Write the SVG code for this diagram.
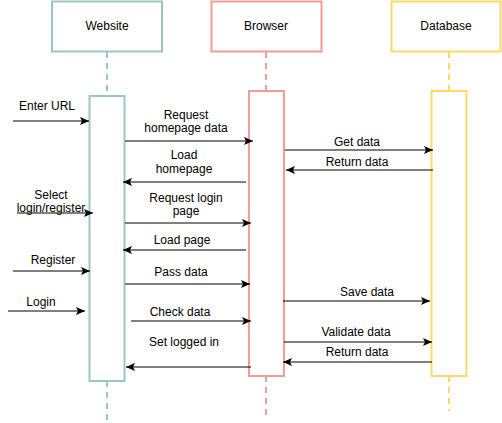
<svg xmlns="http://www.w3.org/2000/svg" width="502" height="423" viewBox="0 0 502 423">
<defs>
<marker id="ah" markerWidth="10" markerHeight="8" refX="9" refY="4" orient="auto" markerUnits="userSpaceOnUse">
<path d="M0,0 L9,4 L0,8 L2,4 Z" fill="#000"/>
</marker>
</defs>
<style>
text{font-family:"Liberation Sans",Arial,sans-serif;font-size:12px;fill:#000;text-anchor:middle}
.msg{stroke:#000;stroke-width:1;fill:none;marker-end:url(#ah)}
.teal{stroke:#9AC7BF}
.pink{stroke:#F19C99}
.yel{stroke:#FFD966}
.box{fill:#fff;stroke-width:2}
.life{stroke-width:2;stroke-dasharray:6,5;fill:none}
</style>
<rect width="502" height="423" fill="#fff"/>
<g id="website">
<line class="life teal" x1="107" y1="52" x2="107" y2="96"/>
<line class="life teal" x1="107" y1="381" x2="107" y2="423"/>
<rect class="box teal" x="52" y="1.5" width="110" height="50"/>
<text x="107" y="30">Website</text>
<rect class="box teal" x="89.5" y="96" width="35" height="285"/>
</g>
<g id="browser">
<line class="life pink" x1="266" y1="52" x2="266" y2="91"/>
<line class="life pink" x1="266" y1="376" x2="266" y2="416"/>
<rect class="box pink" x="211.5" y="1.5" width="110" height="50"/>
<text x="266" y="30">Browser</text>
<rect class="box pink" x="249" y="91" width="35" height="285"/>
</g>
<g id="database">
<line class="life yel" x1="449" y1="52" x2="449" y2="91"/>
<line class="life yel" x1="449" y1="376" x2="449" y2="411"/>
<rect class="box yel" x="391.5" y="1.5" width="109" height="50"/>
<text x="446" y="30">Database</text>
<rect class="box yel" x="431.5" y="91" width="35" height="285"/>
</g>
<g id="connectors">
<line class="msg" x1="13" y1="121" x2="89" y2="121"/>
<line class="msg" x1="125" y1="141" x2="253" y2="141"/>
<line class="msg" x1="246" y1="182" x2="123" y2="182"/>
<line class="msg" x1="17" y1="213" x2="93" y2="213"/>
<line class="msg" x1="125" y1="223" x2="251" y2="223"/>
<line class="msg" x1="246" y1="250" x2="123" y2="250"/>
<line class="msg" x1="13" y1="271" x2="90" y2="271"/>
<line class="msg" x1="125" y1="284" x2="250" y2="284"/>
<line class="msg" x1="8" y1="311" x2="85" y2="311"/>
<line class="msg" x1="131" y1="321" x2="251" y2="321"/>
<line class="msg" x1="251" y1="367" x2="126" y2="367"/>
<line class="msg" x1="285" y1="150" x2="433" y2="150"/>
<line class="msg" x1="433" y1="170" x2="286" y2="170"/>
<line class="msg" x1="283" y1="301" x2="430" y2="301"/>
<line class="msg" x1="284" y1="342" x2="432" y2="342"/>
<line class="msg" x1="432" y1="362" x2="283" y2="362"/>
</g>
<g id="labels">
<text x="47" y="110">Enter URL</text>
<text x="186" y="119">Request</text>
<text x="186" y="132">homepage data</text>
<text x="184" y="159">Load</text>
<text x="184" y="173">homepage</text>
<text x="51" y="199">Select</text>
<text x="51" y="212">login/register</text>
<text x="186" y="202">Request login</text>
<text x="186" y="215">page</text>
<text x="182" y="244">Load page</text>
<text x="53" y="264">Register</text>
<text x="181" y="276">Pass data</text>
<text x="41" y="306">Login</text>
<text x="180" y="316">Check data</text>
<text x="184" y="346">Set logged in</text>
<text x="357" y="146">Get data</text>
<text x="357" y="166">Return data</text>
<text x="367" y="296">Save data</text>
<text x="356" y="336">Validate data</text>
<text x="357" y="356">Return data</text>
</g>
</svg>
